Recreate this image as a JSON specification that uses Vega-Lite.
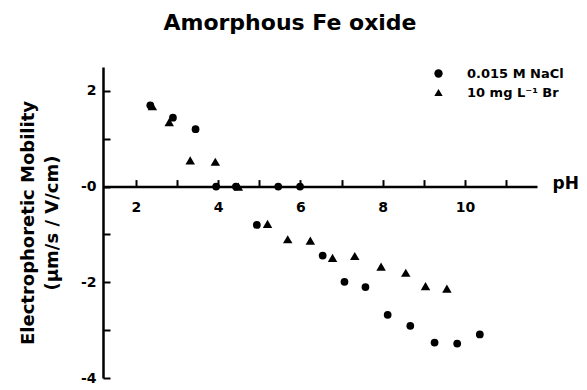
{
  "$schema": "https://vega.github.io/schema/vega-lite/v6.json",
  "width": 434,
  "height": 311,
  "autosize": "none",
  "padding": {"left": 103, "top": 67, "right": 50, "bottom": 12},
  "background": "white",
  "title": {
    "text": "Amorphous Fe oxide",
    "font": "DejaVu Sans",
    "fontSize": 22,
    "fontWeight": "bold",
    "color": "black",
    "anchor": "middle",
    "dx": -30,
    "offset": 15,
    "baseline": "alphabetic"
  },
  "data": {
    "values": [
      {"series": "10 mg L⁻¹ Br", "pH": 2.40, "mobility": 1.68},
      {"series": "10 mg L⁻¹ Br", "pH": 2.81, "mobility": 1.35},
      {"series": "10 mg L⁻¹ Br", "pH": 3.32, "mobility": 0.55},
      {"series": "10 mg L⁻¹ Br", "pH": 3.93, "mobility": 0.52},
      {"series": "10 mg L⁻¹ Br", "pH": 4.49, "mobility": 0.0},
      {"series": "10 mg L⁻¹ Br", "pH": 5.20, "mobility": -0.78},
      {"series": "10 mg L⁻¹ Br", "pH": 5.69, "mobility": -1.10},
      {"series": "10 mg L⁻¹ Br", "pH": 6.24, "mobility": -1.13},
      {"series": "10 mg L⁻¹ Br", "pH": 6.78, "mobility": -1.49},
      {"series": "10 mg L⁻¹ Br", "pH": 7.32, "mobility": -1.45},
      {"series": "10 mg L⁻¹ Br", "pH": 7.96, "mobility": -1.67},
      {"series": "10 mg L⁻¹ Br", "pH": 8.56, "mobility": -1.80},
      {"series": "10 mg L⁻¹ Br", "pH": 9.04, "mobility": -2.08},
      {"series": "10 mg L⁻¹ Br", "pH": 9.56, "mobility": -2.13},
      {"series": "0.015 M NaCl", "pH": 2.35, "mobility": 1.70},
      {"series": "0.015 M NaCl", "pH": 2.90, "mobility": 1.44},
      {"series": "0.015 M NaCl", "pH": 3.45, "mobility": 1.20},
      {"series": "0.015 M NaCl", "pH": 3.95, "mobility": 0.0},
      {"series": "0.015 M NaCl", "pH": 4.43, "mobility": 0.0},
      {"series": "0.015 M NaCl", "pH": 5.46, "mobility": 0.0},
      {"series": "0.015 M NaCl", "pH": 5.99, "mobility": 0.0},
      {"series": "0.015 M NaCl", "pH": 4.94, "mobility": -0.80},
      {"series": "0.015 M NaCl", "pH": 6.54, "mobility": -1.44},
      {"series": "0.015 M NaCl", "pH": 7.07, "mobility": -1.99},
      {"series": "0.015 M NaCl", "pH": 7.58, "mobility": -2.10},
      {"series": "0.015 M NaCl", "pH": 8.12, "mobility": -2.68},
      {"series": "0.015 M NaCl", "pH": 8.67, "mobility": -2.91},
      {"series": "0.015 M NaCl", "pH": 9.26, "mobility": -3.26},
      {"series": "0.015 M NaCl", "pH": 9.81, "mobility": -3.28},
      {"series": "0.015 M NaCl", "pH": 10.36, "mobility": -3.09}
    ]
  },
  "layer": [
    {
      "transform": [{"filter": "datum.series == '10 mg L⁻¹ Br'"}],
      "mark": {"type": "point", "filled": true, "color": "black", "opacity": 1, "size": 90, "strokeWidth": 0},
      "encoding": {
        "x": {
          "field": "pH",
          "type": "quantitative",
          "scale": {"domain": [1.2, 11.75], "nice": false, "zero": false},
          "axis": {
            "orient": "bottom",
            "values": [2, 4, 6, 8, 10],
            "offset": -191.4,
            "ticks": false,
            "tickSize": 0,
            "domainColor": "black",
            "domainWidth": 2.5,
            "labelFont": "DejaVu Sans",
            "labelFontSize": 14,
            "labelFontWeight": "bold",
            "labelColor": "black",
            "labelPadding": 14,
            "labelFlush": false,
            "labelOverlap": false,
            "grid": false,
            "title": "pH",
            "titleFont": "DejaVu Sans",
            "titleFontSize": 17,
            "titleFontWeight": "bold",
            "titleColor": "black",
            "titleX": 449,
            "titleY": 2,
            "titleAlign": "left",
            "titleBaseline": "alphabetic",
            "titleAngle": 0
          }
        },
        "y": {
          "field": "mobility",
          "type": "quantitative",
          "scale": {"domain": [-4, 2.5], "nice": false, "zero": false},
          "axis": {
            "orient": "left",
            "values": [-4, -2, 0, 2],
            "labelExpr": "datum.value <= 0 ? '-' + abs(datum.value) : '' + datum.value",
            "ticks": false,
            "tickSize": 0,
            "domainColor": "black",
            "domainWidth": 2.5,
            "labelFont": "DejaVu Sans",
            "labelFontSize": 14,
            "labelFontWeight": "bold",
            "labelColor": "black",
            "labelPadding": 7,
            "labelFlush": false,
            "labelOverlap": false,
            "grid": false,
            "title": ["Electrophoretic Mobility", "(μm/s / V/cm)"],
            "titleFont": "DejaVu Sans",
            "titleFontSize": 18,
            "titleFontWeight": "bold",
            "titleColor": "black",
            "titleLineHeight": 24,
            "titleX": -70,
            "titleBaseline": "alphabetic",
            "titleAngle": 270
          }
        },
        "shape": {
          "field": "series",
          "type": "nominal",
          "scale": {"domain": ["0.015 M NaCl", "10 mg L⁻¹ Br"], "range": ["circle", "triangle-up"]},
          "legend": {
            "orient": "none",
            "legendX": 329,
            "legendY": 0,
            "title": null,
            "padding": 0,
            "labelFont": "DejaVu Sans",
            "labelFontSize": 13,
            "labelFontWeight": "bold",
            "labelColor": "black",
            "symbolFillColor": "black",
            "symbolStrokeWidth": 0,
            "symbolSize": 70,
            "labelOffset": 22,
            "rowPadding": 5
          }
        }
      }
    },
    {
      "transform": [{"filter": "datum.series == '0.015 M NaCl'"}],
      "mark": {"type": "point", "filled": true, "color": "black", "opacity": 1, "size": 60, "strokeWidth": 0},
      "encoding": {
        "x": {
          "field": "pH",
          "type": "quantitative",
          "axis": {
            "orient": "top",
            "values": [2, 3, 4, 5, 6, 7, 8, 9, 10, 11],
            "offset": -119.6,
            "domain": false,
            "labels": false,
            "ticks": true,
            "tickSize": 7,
            "tickWidth": 2,
            "tickColor": "black",
            "grid": false,
            "title": null
          }
        },
        "y": {
          "field": "mobility",
          "type": "quantitative",
          "axis": {
            "orient": "right",
            "values": [-4, -3, -2, -1, 0, 1, 2],
            "offset": -434,
            "domain": false,
            "labels": false,
            "ticks": true,
            "tickSize": 7,
            "tickWidth": 2,
            "tickColor": "black",
            "grid": false,
            "title": null
          }
        },
        "shape": {"field": "series", "type": "nominal"}
      }
    }
  ],
  "resolve": {"axis": {"x": "independent", "y": "independent"}},
  "config": {
    "view": {"stroke": null},
    "font": "DejaVu Sans"
  }
}
